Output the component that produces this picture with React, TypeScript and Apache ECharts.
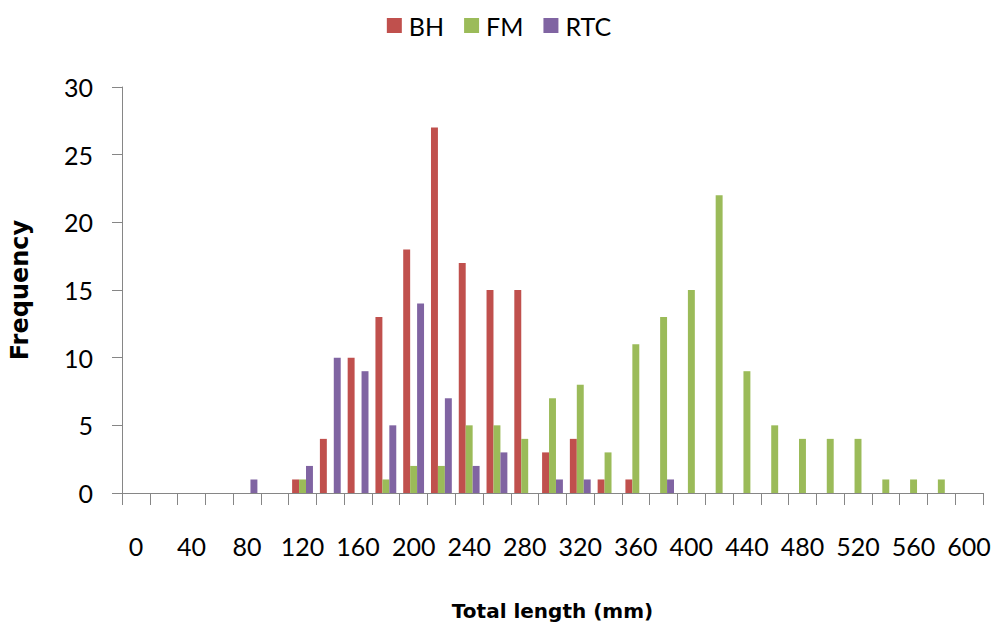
import React, { useEffect, useRef } from "react";
import * as echarts from "echarts";

const categories = [
  "0", "20", "40", "60", "80", "100", "120", "140", "160", "180",
  "200", "220", "240", "260", "280", "300", "320", "340", "360", "380",
  "400", "420", "440", "460", "480", "500", "520", "540", "560", "580", "600",
];
const bh = [0, 0, 0, 0, 0, 0, 1, 4, 10, 13, 18, 27, 17, 15, 15, 3, 4, 1, 1, 0, 0, 0, 0, 0, 0, 0, 0, 0, 0, 0, 0];
const fm = [0, 0, 0, 0, 0, 0, 1, 0, 0, 1, 2, 2, 5, 5, 4, 7, 8, 3, 11, 13, 15, 22, 9, 5, 4, 4, 4, 1, 1, 1, 0];
const rtc = [0, 0, 0, 0, 1, 0, 2, 10, 9, 5, 14, 7, 2, 3, 0, 1, 1, 0, 0, 1, 0, 0, 0, 0, 0, 0, 0, 0, 0, 0, 0];
const seriesNames = ["BH", "FM", "RTC"];
const colors = ["#C0504D", "#9BBB59", "#8064A2"];

const FONT = "Lato";
const TITLE_FONT = "DejaVu Sans";

export default function App() {
  const ref = useRef<HTMLDivElement>(null);
  useEffect(() => {
    if (!ref.current) return;
    const chart = echarts.init(ref.current, undefined, { renderer: "svg" });
    const data = [bh, fm, rtc];
    chart.setOption({
      animation: false,
      backgroundColor: "#ffffff",
      legend: {
        top: 8,
        left: "center",
        itemWidth: 15,
        itemHeight: 15,
        itemGap: 20,
        icon: "rect",
        textStyle: { fontFamily: FONT, fontSize: 25, color: "#000", padding: [0, 0, 0, 2] },
        data: seriesNames,
      },
      grid: { left: 118, right: 15, top: 87, bottom: 132, containLabel: false },
      xAxis: {
        type: "category",
        data: categories,
        boundaryGap: true,
        name: "Total length (mm)",
        nameLocation: "middle",
        nameGap: 108,
        nameTextStyle: { fontFamily: TITLE_FONT, fontSize: 20, fontWeight: "bold", color: "#000" },
        axisLine: { lineStyle: { color: "#868686", width: 1 } },
        axisTick: { show: true, interval: 0, length: 12, lineStyle: { color: "#868686" } },
        axisLabel: {
          interval: 1,
          margin: 40,
          fontFamily: FONT,
          fontSize: 25,
          color: "#000",
        },
        splitLine: { show: false },
      },
      yAxis: {
        type: "value",
        min: 0,
        max: 30,
        interval: 5,
        name: "Frequency",
        nameLocation: "middle",
        nameGap: 90,
        nameRotate: 90,
        nameTextStyle: { fontFamily: TITLE_FONT, fontSize: 24, fontWeight: "bold", color: "#000" },
        axisLine: { show: true, lineStyle: { color: "#868686", width: 1 } },
        axisTick: { show: true, length: 10, lineStyle: { color: "#868686" } },
        axisLabel: { margin: 29, fontFamily: FONT, fontSize: 25, color: "#000" },
        splitLine: { show: false },
      },
      series: seriesNames.map((name, i) => ({
        name,
        type: "bar",
        data: data[i],
        barWidth: "25%",
        barGap: "0%",
        itemStyle: { color: colors[i] },
      })),
    });
    return () => chart.dispose();
  }, []);
  return <div ref={ref} style={{ width: 998, height: 626, position: "absolute", left: 0, top: 0 }} />;
}
